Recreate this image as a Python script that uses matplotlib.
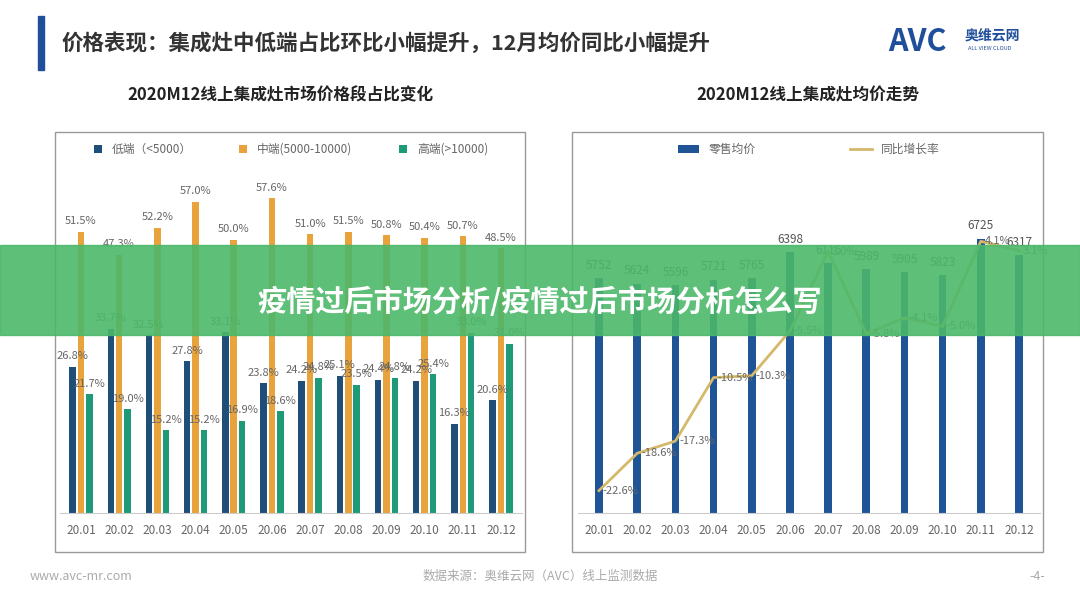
import matplotlib.pyplot as plt
import numpy as np
from matplotlib.patches import Rectangle

plt.rcParams['font.family'] = ['Noto Sans CJK SC', 'DejaVu Sans']

months = ['20.01', '20.02', '20.03', '20.04', '20.05', '20.06',
          '20.07', '20.08', '20.09', '20.10', '20.11', '20.12']
low_share = [26.8, 33.7, 32.5, 27.8, 33.1, 23.8, 24.2, 25.1, 24.4, 24.2, 16.3, 20.6]
mid_share = [51.5, 47.3, 52.2, 57.0, 50.0, 57.6, 51.0, 51.5, 50.8, 50.4, 50.7, 48.5]
high_share = [21.7, 19.0, 15.2, 15.2, 16.9, 18.6, 24.8, 23.5, 24.8, 25.4, 33.0, 31.0]
avg_price = [5752, 5624, 5596, 5721, 5765, 6398, 6115, 5989, 5905, 5823, 6725, 6317]
yoy_growth = [-22.6, -18.6, -17.3, -10.5, -10.3, -5.5, 3.0, -5.8, -4.1, -5.0, 4.1, 3.1]

W, H = 1080, 608
fig = plt.figure(figsize=(10.8, 6.08), dpi=100)
fig.patch.set_facecolor('white')

def fx(x): return x / W
def fy(y): return 1 - y / H

# header
fig.patches.append(Rectangle((fx(38), fy(70)), fx(6), 54 / H, color='#1f4e9a', transform=fig.transFigure))
fig.text(fx(62), fy(43), '价格表现：集成灶中低端占比环比小幅提升，12月均价同比小幅提升',
         fontsize=15.5, fontweight='bold', color='#333333', va='center')
fig.text(fx(888), fy(42), 'AVC', fontsize=22, fontweight='bold', color='#1f4e9a', va='center', style='italic')
fig.text(fx(965), fy(36), '奥维云网', fontsize=10, fontweight='bold', color='#1f4e9a', va='center')
fig.text(fx(968), fy(48), 'ALL VIEW CLOUD', fontsize=4, color='#1f4e9a', va='center')
fig.text(fx(280), fy(95), '2020M12线上集成灶市场价格段占比变化', fontsize=12, fontweight='bold',
         color='#222222', ha='center', va='center')
fig.text(fx(808), fy(95), '2020M12线上集成灶均价走势', fontsize=12, fontweight='bold',
         color='#222222', ha='center', va='center')

# panel borders
for x0, x1 in [(55, 525), (572, 1043)]:
    fig.patches.append(Rectangle((fx(x0), fy(552)), fx(x1 - x0), (552 - 132) / H, fill=False,
                                 ec='#999999', lw=1, transform=fig.transFigure))

x = np.arange(len(months))
tick_kw = dict(labelsize=8.5, colors='#666666')

# left chart
ax1 = fig.add_axes([fx(60), fy(513), fx(462), (513 - 147) / H])
bw = 0.22
colors = ['#1f4e79', '#e8a33d', '#1f9a78']
labels = ['低端（<5000）', '中端(5000-10000)', '高端(>10000)']
for i, (vals, c, lab) in enumerate(zip([low_share, mid_share, high_share], colors, labels)):
    pos = x + (i - 1) * bw
    ax1.bar(pos, vals, 0.17, color=c, label=lab)
    for p, v in zip(pos, vals):
        ax1.text(p, v + 1, f'{v:.1f}%', ha='center', va='bottom', fontsize=8, color='#666666')
ax1.set_ylim(0, 67)
ax1.set_xlim(-0.55, 11.55)
ax1.set_xticks(x)
ax1.set_xticklabels(months)
ax1.tick_params(axis='x', length=0, pad=8, **tick_kw)
ax1.set_yticks([])
for s in ['top', 'left', 'right']:
    ax1.spines[s].set_visible(False)
ax1.spines['bottom'].set_color('#cccccc')
ax1.legend(loc='upper center', bbox_to_anchor=(0.5, 1.04), ncol=3, frameon=False, fontsize=8.5,
           handlelength=0.7, handleheight=0.7, columnspacing=4, labelcolor='#666666')

# right chart
ax2 = fig.add_axes([fx(578), fy(513), fx(462), (513 - 147) / H])
ax2.bar(x, avg_price, 0.2, color='#1f5597', label='零售均价')
for xi, v in zip(x, avg_price):
    ax2.text(xi, v + 150, f'{v}', ha='center', va='bottom', fontsize=8.5, color='#555555')
ax2.set_ylim(0, 8970)
ax2.set_xlim(-0.55, 11.55)
ax2.set_xticks(x)
ax2.set_xticklabels(months)
ax2.tick_params(axis='x', length=0, pad=8, **tick_kw)
ax2.set_yticks([])
for s in ['top', 'left', 'right']:
    ax2.spines[s].set_visible(False)
ax2.spines['bottom'].set_color('#cccccc')
ax3 = ax2.twinx()
ax3.plot(x, yoy_growth, color='#d4b96a', lw=2, label='同比增长率')
for xi, v in zip(x, yoy_growth):
    ax3.text(xi + 0.1, v, f'{v:.1f}%', ha='left', va='center', fontsize=8, color='#666666')
ax3.set_ylim(-25, 14.2)
ax3.set_yticks([])
for s in ['top', 'left', 'right', 'bottom']:
    ax3.spines[s].set_visible(False)
h1, l1 = ax2.get_legend_handles_labels()
h2, l2 = ax3.get_legend_handles_labels()
ax3.legend(h1 + h2, l1 + l2, loc='upper center', bbox_to_anchor=(0.5, 1.04), ncol=2, frameon=False,
           fontsize=8.5, handlelength=1.8, columnspacing=8, labelcolor='#666666')

# footer
fig.text(fx(30), fy(576), 'www.avc-mr.com', fontsize=9, color='#aaaaaa', va='center')
fig.text(fx(540), fy(576), '数据来源：奥维云网（AVC）线上监测数据', fontsize=9, color='#aaaaaa',
         ha='center', va='center')
fig.text(fx(1045), fy(576), '-4-', fontsize=9, color='#aaaaaa', ha='right', va='center')

# overlay banner
fig.patches.append(Rectangle((0, fy(335)), 1, 90 / H, color='#4cb86a', alpha=0.9,
                             transform=fig.transFigure, zorder=10))
fig.text(0.5, fy(302), '疫情过后市场分析/疫情过后市场分析怎么写', fontsize=21, fontweight='bold',
         color='white', ha='center', va='center', zorder=11)

fig.savefig('out.png', dpi=100)
